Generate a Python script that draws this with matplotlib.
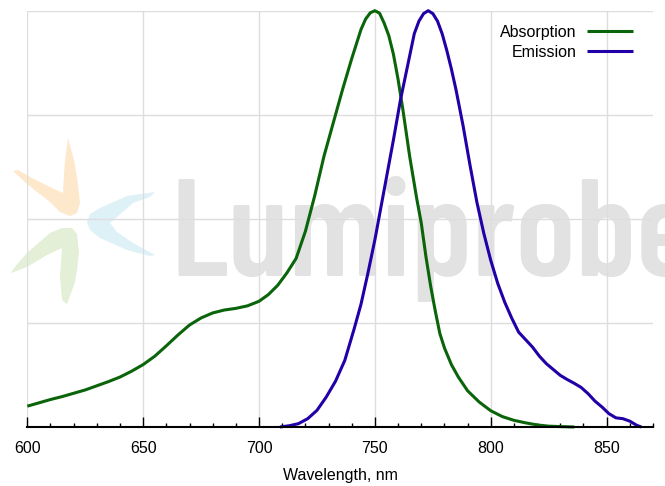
import matplotlib
matplotlib.use("Agg")
import matplotlib.pyplot as plt
from matplotlib.patches import Polygon
from matplotlib.ticker import MultipleLocator

# absorption spectrum (nm, normalised)
abs_nm = [600, 605, 610, 615, 620, 625, 630, 635, 640, 645, 650, 655, 660, 665,
          670, 675, 680, 685, 690, 695, 700, 704, 708, 712, 716, 720, 724, 728,
          732, 736, 740, 744, 746, 748, 750, 752, 754, 756, 758, 760, 762, 765,
          768, 770, 772, 774, 776, 778, 780, 783, 786, 790, 795, 800, 805, 810,
          815, 820, 825, 830, 836]
abs_val = [0.050, 0.058, 0.066, 0.073, 0.081, 0.089, 0.099, 0.109, 0.120, 0.134,
           0.150, 0.170, 0.195, 0.221, 0.245, 0.262, 0.274, 0.281, 0.285, 0.291,
           0.302, 0.318, 0.340, 0.370, 0.405, 0.470, 0.555, 0.650, 0.730, 0.810,
           0.885, 0.955, 0.980, 0.995, 1.000, 0.994, 0.970, 0.940, 0.895, 0.835,
           0.765, 0.650, 0.550, 0.490, 0.410, 0.340, 0.280, 0.225, 0.190, 0.150,
           0.120, 0.087, 0.060, 0.039, 0.025, 0.016, 0.010, 0.005, 0.002, 0.001,
           0.000]

# emission spectrum
em_nm = [709, 713, 717, 721, 725, 729, 733, 737, 741, 744, 747, 750, 752, 755,
         758, 761, 764, 767, 769, 771, 773, 775, 777, 779, 781, 783, 785, 788,
         791, 794, 797, 800, 803, 806, 809, 812, 815, 818, 821, 824, 827, 830,
         833, 836, 839, 842, 845, 848, 851, 854, 857, 860, 863, 865]
em_val = [0.000, 0.003, 0.008, 0.020, 0.040, 0.072, 0.110, 0.160, 0.235, 0.295,
          0.370, 0.450, 0.510, 0.600, 0.690, 0.785, 0.865, 0.945, 0.975, 0.993,
          1.000, 0.993, 0.975, 0.945, 0.905, 0.860, 0.810, 0.725, 0.630, 0.540,
          0.465, 0.400, 0.345, 0.300, 0.262, 0.228, 0.210, 0.192, 0.170, 0.152,
          0.138, 0.124, 0.114, 0.105, 0.095, 0.080, 0.062, 0.048, 0.032, 0.022,
          0.020, 0.014, 0.004, 0.000]

labels = ["Absorption", "Emission"]
colors = ["#0a640a", "#2200a8"]

W, H = 665, 486

# logo petals, outlines in pixel coords (y down)
petal_orange = [(68, 138), (74, 160), (77, 177), (80, 203), (77, 213), (70, 216),
                (60, 212), (50, 202), (27, 184), (13, 171), (18, 170), (30, 177),
                (50, 187), (63, 193), (64, 175), (65, 160)]
petal_cyan = [(87, 222), (90, 214), (100, 208), (127, 196), (155, 192), (150, 197),
              (133, 203), (117, 217), (110, 223), (117, 232), (133, 243),
              (155, 255), (150, 256), (127, 250), (100, 238), (90, 230)]
petal_green = [(72, 228), (77, 234), (79, 253), (77, 270), (75, 282), (67, 304),
               (62, 300), (60, 277), (62, 248), (47, 255), (27, 267), (11, 273),
               (14, 268), (27, 253), (50, 233), (62, 228)]
petal_colors = ["#fde8cc", "#ddf1f6", "#e3efd6"]


def px(pts):
    return [(x / W, 1 - y / H) for x, y in pts]


fig = plt.figure(figsize=(W / 100, H / 100), dpi=100)
ax = fig.add_axes([27.3 / W, 1 - 427 / H, (653 - 27.3) / W, (427 - 10.7) / H])
ax.set_facecolor("none")

# watermark
for pts, c in zip([petal_orange, petal_cyan, petal_green], petal_colors):
    fig.add_artist(Polygon(px(pts), closed=True, facecolor=c, edgecolor="none",
                           transform=fig.transFigure, zorder=-2))
fig.text(170 / W, 1 - 276 / H, "Lumiprobe", color="#e2e2e2", fontsize=100,
         family=["Barlow Condensed", "DejaVu Sans"], weight="semibold",
         ha="left", va="baseline", zorder=-1)

for x, y, lab, c in zip([abs_nm, em_nm], [abs_val, em_val], labels, colors):
    ax.plot(x, y, color=c, lw=2.2, label=lab, clip_on=False,
            solid_capstyle="butt", solid_joinstyle="round")

ax.set_xlim(600, 870)
ax.set_ylim(0, 1)
ax.xaxis.set_major_locator(MultipleLocator(50))
ax.xaxis.set_minor_locator(MultipleLocator(10))
ax.yaxis.set_major_locator(MultipleLocator(0.25))
ax.grid(True, color="#dddddd", lw=1)
ax.set_axisbelow(True)

for s in ["left", "right", "top"]:
    ax.spines[s].set_visible(False)
ax.spines["bottom"].set_linewidth(1.5)
ax.tick_params(axis="y", left=False, labelleft=False)
ax.tick_params(axis="x", which="major", direction="in", length=7.5, width=1,
               pad=10, labelsize=11.5)
ax.tick_params(axis="x", which="minor", direction="in", length=3, width=1)
for t in ax.get_xticklabels():
    t.set_family("Liberation Sans")

ax.set_xlabel("Wavelength, nm", fontsize=11.5, family="Liberation Sans",
              labelpad=8.5)

leg = ax.legend(loc="upper right", bbox_to_anchor=(0.991, 1.0), frameon=False,
                markerfirst=False, handlelength=2.9, handletextpad=0.65,
                labelspacing=0.3, prop={"family": "Liberation Sans", "size": 11.5})

fig.savefig("out.png", dpi=100)
